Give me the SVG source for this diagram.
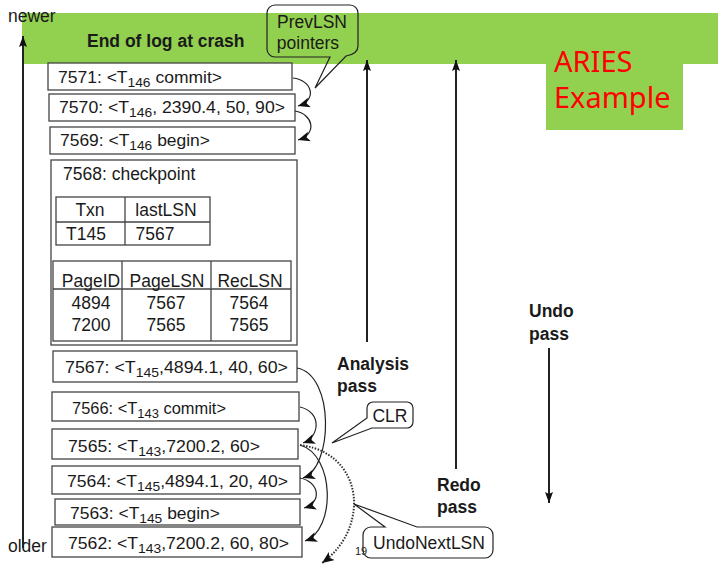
<svg xmlns="http://www.w3.org/2000/svg" width="718" height="565" viewBox="0 0 718 565">
<style>
.t{font-family:"Liberation Sans",Arial,sans-serif;font-size:16.5px;fill:#1a1a1a}
.c{font-family:"Liberation Sans",Arial,sans-serif;font-size:17.5px;fill:#1a1a1a}
.b{font-family:"Liberation Sans",Arial,sans-serif;font-size:17.5px;font-weight:bold;fill:#1a1a1a}
.box{fill:#fff;stroke:#444;stroke-width:1.3}
.ln{fill:none;stroke:#444;stroke-width:1.3}
.cv{fill:none;stroke:#222;stroke-width:1.2}
.ar{fill:none;stroke:#222;stroke-width:2}
.red{font-family:"Noto Sans","Open Sans",sans-serif;font-size:29px;fill:#ff0000}
</style>
<defs>
<marker id="ah" markerUnits="userSpaceOnUse" markerWidth="13" markerHeight="11" refX="12" refY="5" orient="auto">
<path d="M0,0 L12,5 L0,10 L3,5 Z" fill="#111"/>
</marker>
<marker id="as" markerUnits="userSpaceOnUse" markerWidth="12" markerHeight="10" refX="11" refY="4" orient="auto">
<path d="M0,0 L11,4 L0,8 L2,4 Z" fill="#111"/>
</marker>
</defs>
<rect x="0" y="0" width="718" height="565" fill="#fff"/>
<g id="band">
<rect x="22" y="13" width="696" height="51" fill="#92d050"/>
<text class="b" x="87" y="47">End of log at crash</text>
</g>
<g id="title">
<rect x="546" y="27" width="137" height="103" fill="#92d050"/>
<text class="red" x="554" y="72">ARIES</text>
<text class="red" x="554" y="108">Example</text>
</g>
<g id="axis-labels">
<text class="c" x="8" y="22">newer</text>
<text class="c" x="8" y="552">older</text>
</g>
<g id="pass-labels">
<text class="b" x="337" y="370">Analysis</text>
<text class="b" x="337" y="392">pass</text>
<text class="b" x="437" y="491">Redo</text>
<text class="b" x="437" y="513">pass</text>
<text class="b" x="529" y="317">Undo</text>
<text class="b" x="529" y="340">pass</text>
</g>
<g id="r7571"><rect class="box" x="48" y="63" width="244" height="27"/><text class="t" x="58" y="83" textLength="164" lengthAdjust="spacingAndGlyphs">7571: &lt;T<tspan font-size="13" dy="4">146</tspan><tspan dy="-4"> commit&gt;</tspan></text></g>
<g id="r7570"><rect class="box" x="49" y="94" width="246" height="27"/><text class="t" x="59" y="113" textLength="226" lengthAdjust="spacingAndGlyphs">7570: &lt;T<tspan font-size="13" dy="4">146</tspan><tspan dy="-4">, 2390.4, 50, 90&gt;</tspan></text></g>
<g id="r7569"><rect class="box" x="50" y="127" width="245" height="27"/><text class="t" x="60" y="146" textLength="150" lengthAdjust="spacingAndGlyphs">7569: &lt;T<tspan font-size="13" dy="4">146</tspan><tspan dy="-4"> begin&gt;</tspan></text></g>
<g id="r7568">
<rect class="box" x="51" y="160" width="246" height="185"/>
<text class="c" x="63" y="180">7568: checkpoint</text>
<rect class="ln" x="56" y="197" width="154" height="48"/>
<line class="ln" x1="56" y1="222" x2="210" y2="222"/>
<line class="ln" x1="125" y1="197" x2="125" y2="245"/>
<text class="c" x="90" y="216" text-anchor="middle">Txn</text>
<text class="c" x="166" y="216" text-anchor="middle">lastLSN</text>
<text class="c" x="86" y="240" text-anchor="middle">T145</text>
<text class="c" x="155" y="240" text-anchor="middle">7567</text>
<rect class="ln" x="53" y="261" width="238" height="80"/>
<line class="ln" x1="53" y1="289" x2="291" y2="289"/>
<line class="ln" x1="122" y1="261" x2="122" y2="341"/>
<line class="ln" x1="211" y1="261" x2="211" y2="341"/>
<text class="c" x="91" y="287" text-anchor="middle">PageID</text>
<text class="c" x="167" y="287" text-anchor="middle">PageLSN</text>
<text class="c" x="250" y="287" text-anchor="middle">RecLSN</text>
<text class="c" x="91" y="309" text-anchor="middle">4894</text>
<text class="c" x="166" y="309" text-anchor="middle">7567</text>
<text class="c" x="249" y="309" text-anchor="middle">7564</text>
<text class="c" x="91" y="331" text-anchor="middle">7200</text>
<text class="c" x="166" y="331" text-anchor="middle">7565</text>
<text class="c" x="249" y="331" text-anchor="middle">7565</text>
</g>
<g id="r7567"><rect class="box" x="53" y="351" width="244" height="31"/><text class="t" x="65" y="373" textLength="223" lengthAdjust="spacingAndGlyphs">7567: &lt;T<tspan font-size="13" dy="4">145</tspan><tspan dy="-4">,4894.1, 40, 60&gt;</tspan></text></g>
<g id="r7566"><rect class="box" x="52" y="392" width="247" height="29"/><text class="t" x="72" y="414" textLength="154" lengthAdjust="spacingAndGlyphs">7566: &lt;T<tspan font-size="13" dy="4">143</tspan><tspan dy="-4"> commit&gt;</tspan></text></g>
<g id="r7565"><rect class="box" x="52" y="429" width="246" height="30"/><text class="t" x="68" y="452" textLength="192" lengthAdjust="spacingAndGlyphs">7565: &lt;T<tspan font-size="13" dy="4">143</tspan><tspan dy="-4">,7200.2, 60&gt;</tspan></text></g>
<g id="r7564"><rect class="box" x="52" y="466" width="248" height="28"/><text class="t" x="67" y="487" textLength="221" lengthAdjust="spacingAndGlyphs">7564: &lt;T<tspan font-size="13" dy="4">145</tspan><tspan dy="-4">,4894.1, 20, 40&gt;</tspan></text></g>
<g id="r7563"><rect class="box" x="55" y="499" width="245" height="26"/><text class="t" x="70" y="519" textLength="150" lengthAdjust="spacingAndGlyphs">7563: &lt;T<tspan font-size="13" dy="4">145</tspan><tspan dy="-4"> begin&gt;</tspan></text></g>
<g id="r7562"><rect class="box" x="52" y="527" width="250" height="30"/><text class="t" x="68" y="549" textLength="221" lengthAdjust="spacingAndGlyphs">7562: &lt;T<tspan font-size="13" dy="4">143</tspan><tspan dy="-4">,7200.2, 60, 80&gt;</tspan></text></g>
<g id="callout-prevlsn">
<path class="cv" d="M275,5 H350 A8,8 0 0 1 358,13 V46 Q358,54 346,56 L315,88 L330,57 H275 A8,8 0 0 1 267,49 V13 A8,8 0 0 1 275,5 Z"/>
<text class="c" x="312" y="28" text-anchor="middle">PrevLSN</text>
<text class="c" x="308" y="49" text-anchor="middle">pointers</text>
</g>
<g id="callout-clr">
<path class="cv" d="M373,402 H407 A6,6 0 0 1 413,408 V422 A6,6 0 0 1 407,428 H372 L332,443 L367,418 V408 A6,6 0 0 1 373,402 Z"/>
<text class="c" x="390" y="422" text-anchor="middle">CLR</text>
</g>
<g id="callout-undonext">
<path class="cv" d="M371,527 H385 L354,504 L417,527 H485 A8,8 0 0 1 493,535 V550 A8,8 0 0 1 485,558 H371 A8,8 0 0 1 363,550 V535 A8,8 0 0 1 371,527 Z"/>
<text class="c" x="429" y="549" text-anchor="middle">UndoNextLSN</text>
</g>
<text x="355" y="555" font-family="Liberation Sans,Arial,sans-serif" font-size="11" fill="#222">19</text>
<g id="connectors">
<line class="ar" x1="23" y1="548" x2="23" y2="36" marker-end="url(#as)"/>
<line class="ar" x1="367" y1="342" x2="367" y2="60" marker-end="url(#as)"/>
<line class="ar" x1="456" y1="469" x2="456" y2="60" marker-end="url(#as)"/>
<line class="ar" x1="549" y1="348" x2="549" y2="503" marker-end="url(#as)"/>
<path class="cv" d="M293,78 C312,80 318,100 298,106" marker-end="url(#ah)"/>
<path class="cv" d="M295,111 C313,114 318,134 298,140" marker-end="url(#ah)"/>
<path class="cv" d="M297,368 C335,375 333,468 303,478" marker-end="url(#ah)"/>
<path class="cv" d="M300,407 C322,412 320,437 303,443" marker-end="url(#ah)"/>
<path class="cv" d="M300,445 C335,455 336,530 305,541" marker-end="url(#ah)"/>
<path class="cv" d="M300,478 C320,482 322,503 304,508" marker-end="url(#ah)"/>
<path fill="none" stroke="#333" stroke-width="2" stroke-dasharray="1.5,1.5" d="M300,445 C340,450 355,480 354,505 C353,530 340,550 322,563" marker-end="url(#ah)"/>
</g>
</svg>
